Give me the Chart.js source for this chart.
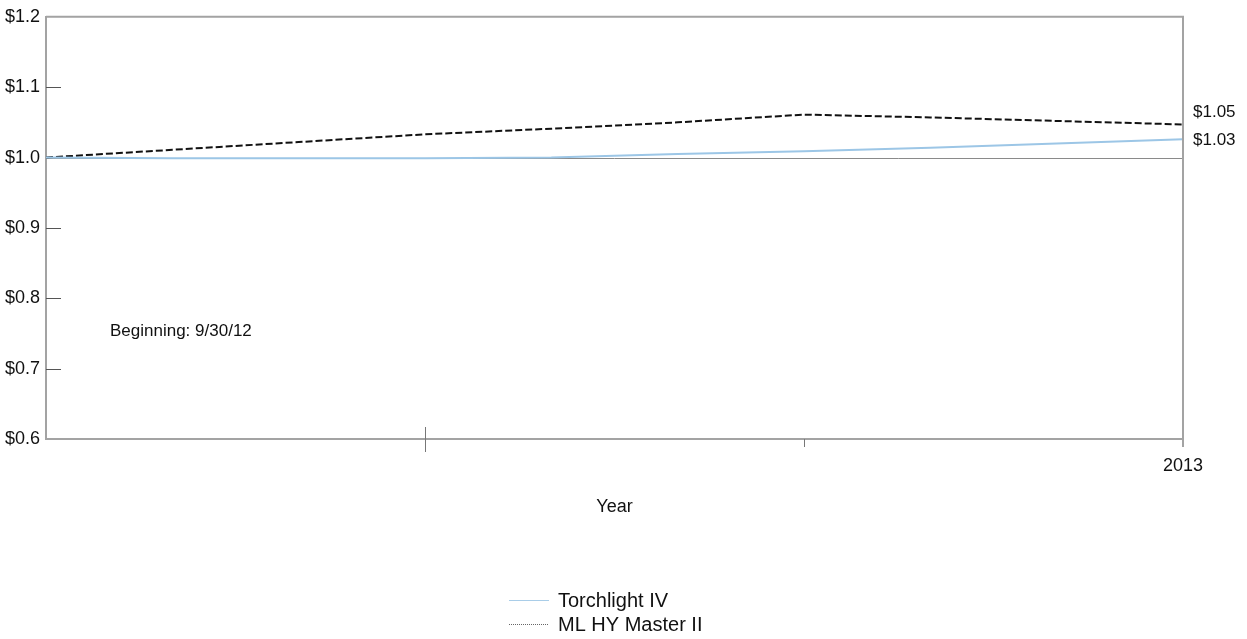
<!DOCTYPE html>
<html><head><meta charset="utf-8">
<script src="https://cdn.jsdelivr.net/npm/chart.js@4/dist/chart.umd.min.js"></script>
<style>html,body{margin:0;padding:0;background:#fff}#wrap{width:1247px;height:639px;position:relative}</style>
</head><body><div id="wrap"><canvas id="c" width="1247" height="639"></canvas></div>
<script>
const months = [0,1,2,3,4,5,6,7,8,9];
const torchlight = [1.000,0.999,0.999,0.999,1.000,1.005,1.009,1.014,1.020,1.026];
const mlhy = [1.000,1.011,1.022,1.033,1.041,1.050,1.061,1.057,1.052,1.047];
const seriesNames = ['Torchlight IV','ML HY Master II'];
const endLabels = ['$1.03','$1.05'];
const yTicks = [0.6,0.7,0.8,0.9,1.0,1.1,1.2];
const xTickLabels = {9:'2013'};
const FONT = 'Liberation Sans, Arial, sans-serif';

const deco = {
  id:'deco',
  beforeDatasetsDraw(chart){
    const {ctx, chartArea:a, scales:{x,y}} = chart;
    ctx.save();
    // reference line at 1.0
    ctx.strokeStyle='#8a8a8a'; ctx.lineWidth=1;
    const y1 = Math.round(y.getPixelForValue(1.0))+0.5;
    ctx.beginPath(); ctx.moveTo(a.left,y1); ctx.lineTo(a.right,y1); ctx.stroke();
    ctx.restore();
  },
  afterDatasetsDraw(chart){
    const {ctx, chartArea:a, scales:{x,y}} = chart;
    ctx.save();
    // frame top/right
    ctx.strokeStyle='#a3a3a3'; ctx.lineWidth=2;
    ctx.beginPath(); ctx.moveTo(a.left,a.top); ctx.lineTo(a.right,a.top); ctx.lineTo(a.right,a.bottom+8); ctx.stroke();
    // y inner ticks
    ctx.strokeStyle='#555'; ctx.lineWidth=1;
    [0.7,0.8,0.9,1.1].forEach(v=>{
      const py=Math.round(y.getPixelForValue(v))+0.5;
      ctx.beginPath(); ctx.moveTo(a.left,py); ctx.lineTo(a.left+15,py); ctx.stroke();
    });
    // x ticks
    ctx.strokeStyle='#777'; ctx.lineWidth=1;
    const p3=Math.round(x.getPixelForValue(3))+0.5;
    ctx.beginPath(); ctx.moveTo(p3,a.bottom-12); ctx.lineTo(p3,a.bottom+13); ctx.stroke();
    const p6=Math.round(x.getPixelForValue(6))+0.5;
    ctx.beginPath(); ctx.moveTo(p6,a.bottom); ctx.lineTo(p6,a.bottom+8); ctx.stroke();
    // end labels
    ctx.fillStyle='#111'; ctx.font='17px '+FONT; ctx.textBaseline='middle'; ctx.textAlign='left';
    const yt = y.getPixelForValue(torchlight[torchlight.length-1]);
    const ym = y.getPixelForValue(mlhy[mlhy.length-1]);
    ctx.fillText(endLabels[1], a.right+10, Math.min(ym-12, yt-16));
    ctx.fillText(endLabels[0], a.right+10, Math.max(yt+1, ym+16));
    // annotation
    ctx.fillText('Beginning: 9/30/12', 110, 331);
    // legend
    ctx.font='20px '+FONT;
    const lx=509, items=[{y:600,c:'#a9cde8',d:[]},{y:624,c:'#666',d:[1,1]}];
    items.forEach((it,i)=>{
      ctx.strokeStyle=it.c; ctx.lineWidth=1; ctx.setLineDash(it.d);
      ctx.beginPath(); ctx.moveTo(lx,it.y+0.5); ctx.lineTo(lx+40,it.y+0.5); ctx.stroke();
      ctx.setLineDash([]);
      ctx.fillText(seriesNames[i], lx+49, it.y+1);
    });
    ctx.restore();
  }
};

new Chart(document.getElementById('c'),{
  type:'line',
  data:{labels:months,datasets:[
    {label:seriesNames[0],data:months.map((m,i)=>({x:m,y:torchlight[i]})),borderColor:'#9cc6e6',borderWidth:2,pointRadius:0,tension:0},
    {label:seriesNames[1],data:months.map((m,i)=>({x:m,y:mlhy[i]})),borderColor:'#111',borderWidth:2,borderDash:[7,3],pointRadius:0,tension:0}
  ]},
  options:{
    responsive:false,animation:false,
    layout:{padding:{left:0,right:64,top:16,bottom:117}},
    plugins:{legend:{display:false},tooltip:{enabled:false}},
    scales:{
      x:{type:'linear',min:0,max:9,
        afterFit(s){s.height=83;},
        grid:{display:false,drawTicks:false},
        border:{display:true,color:'#a3a3a3',width:2},
        ticks:{stepSize:3,autoSkip:false,maxRotation:0,padding:16,color:'#111',font:{family:FONT,size:18},
          callback:(v)=>xTickLabels[v]||''},
        title:{display:true,text:'Year',color:'#111',font:{family:FONT,size:18},padding:{top:4,bottom:4}}
      },
      y:{min:0.6,max:1.2,
        afterFit(s){s.width=46;},
        afterBuildTicks(s){s.ticks=yTicks.map(v=>({value:v}));},
        grid:{display:false,drawTicks:false},
        border:{display:true,color:'#a3a3a3',width:2},
        ticks:{padding:6,color:'#111',font:{family:FONT,size:18},callback:(v)=>'$'+Number(v).toFixed(1)}
      }
    }
  },
  plugins:[deco]
});
</script></body></html>
